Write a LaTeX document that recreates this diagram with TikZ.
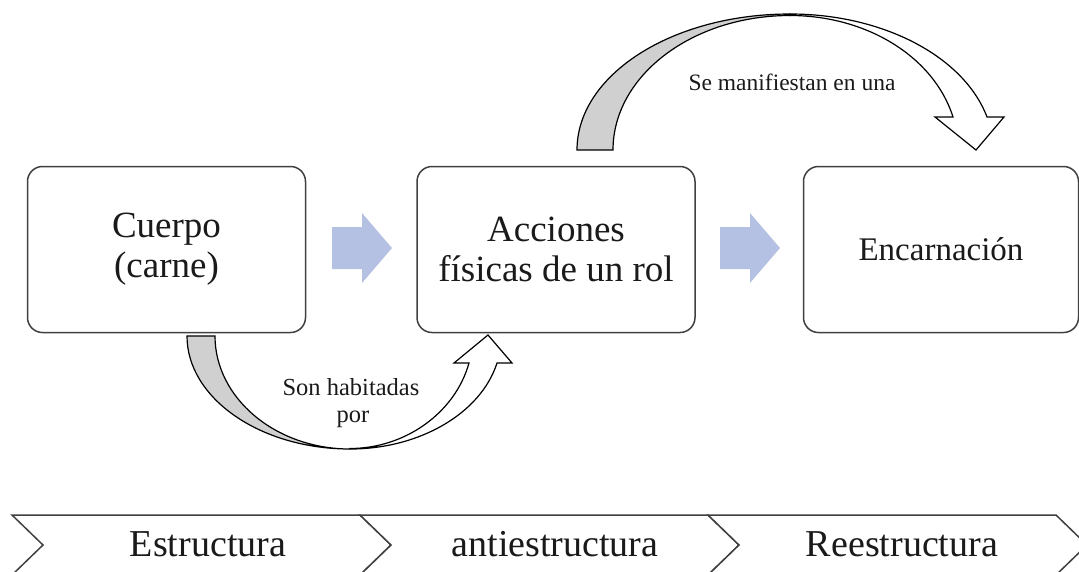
\documentclass[tikz,border=0pt]{standalone}
\usepackage{fontspec}
\setmainfont{Liberation Serif}
\definecolor{boxline}{HTML}{404040}
\definecolor{arrowblue}{HTML}{B4C1E3}
\definecolor{ribbongray}{HTML}{D0D0D0}
\definecolor{txt}{HTML}{1A1A1A}
\tikzset{
  stagebox/.style={draw=boxline, line width=1.5pt, rounded corners=15pt, fill=white,
    minimum width=278pt, minimum height=166pt, inner sep=0pt, align=center, text=txt},
  bigtxt/.style={font=\fontsize{37}{40}\selectfont},
  midtxt/.style={font=\fontsize{33}{36}\selectfont},
  smalltxt/.style={font=\fontsize{24.5}{27}\selectfont, text=txt, inner sep=0pt},
  chevtxt/.style={font=\fontsize{38}{40}\selectfont, text=txt, inner sep=0pt, anchor=base},
  ribbon/.style={draw=black, line width=1.2pt, line join=miter},
  blockarrow/.style={fill=arrowblue, draw=none},
  chevron/.style={draw=boxline, line width=1.5pt, fill=white, line join=miter}
}
\begin{document}
\begin{tikzpicture}[x=1pt,y=-1pt]
\useasboundingbox (0,0) rectangle (1079,571);
\clip (0,0) rectangle (1079,571);

% boxes
\node[stagebox, bigtxt] (b1) at (166.5,249.5) {Cuerpo\\(carne)};
\node[stagebox, bigtxt] (b2) at (556,249.5) {Acciones\\físicas de un rol};
\node[stagebox, midtxt, minimum width=275pt] (b3) at (941,249.5) {Encarnación};

% blue block arrows
\path[blockarrow] (332,227) -- (362,227) -- (362,213) -- (392,248) -- (362,283) -- (362,269) -- (332,269) -- cycle;
\path[blockarrow] (720,227) -- (750,227) -- (750,213) -- (780,248) -- (750,283) -- (750,269) -- (720,269) -- cycle;

% bottom curved arrow (b1 -> b2)
\filldraw[ribbon, fill=ribbongray] (187,336) -- (215,336)
  .. controls (215,398) and (275.5,449) .. (350,449)
  .. controls (260,449) and (187,398) .. (187,336) -- cycle;
\filldraw[ribbon, fill=white] (350,449)
  .. controls (420,449) and (481,413) .. (497,363)
  -- (512,363) -- (488,335) -- (454,363) -- (469,363)
  .. controls (455,413) and (405,448.5) .. (350,448.5) -- cycle;

% top curved arrow (b2 -> b3)
\filldraw[ribbon, fill=ribbongray] (577,150)
  .. controls (577,75) and (672,14) .. (790,14)
  -- (790,15.5)
  .. controls (692,15.5) and (613,76) .. (613,150) -- cycle;
\filldraw[ribbon, fill=white] (790,14)
  .. controls (883,14) and (964,56.5) .. (987,117)
  -- (1004,117) -- (976,150) -- (935,117) -- (953,117)
  .. controls (934,57) and (867,15.5) .. (790,15.5) -- cycle;

% arrow labels
\node[smalltxt, anchor=base] (l1a) at (351,395) {Son habitadas};
\node[smalltxt, anchor=base] (l1b) at (353,422) {por};
\node[font=\fontsize{23.5}{26}\selectfont, text=txt, inner sep=0pt, anchor=base] (l2) at (792,90) {Se manifiestan en una};

% chevrons
\foreach \x in {12,360,708}{
  \filldraw[chevron] (\x,515) -- (\x+348,515) -- (\x+379,545) -- (\x+348,575) -- (\x,575) -- (\x+31,545) -- cycle;
}
\node[chevtxt] (c1) at (208,556) {Estructura};
\node[chevtxt] (c2) at (555,556) {antiestructura};
\node[chevtxt] (c3) at (902,556) {Reestructura};
\end{tikzpicture}
\end{document}
